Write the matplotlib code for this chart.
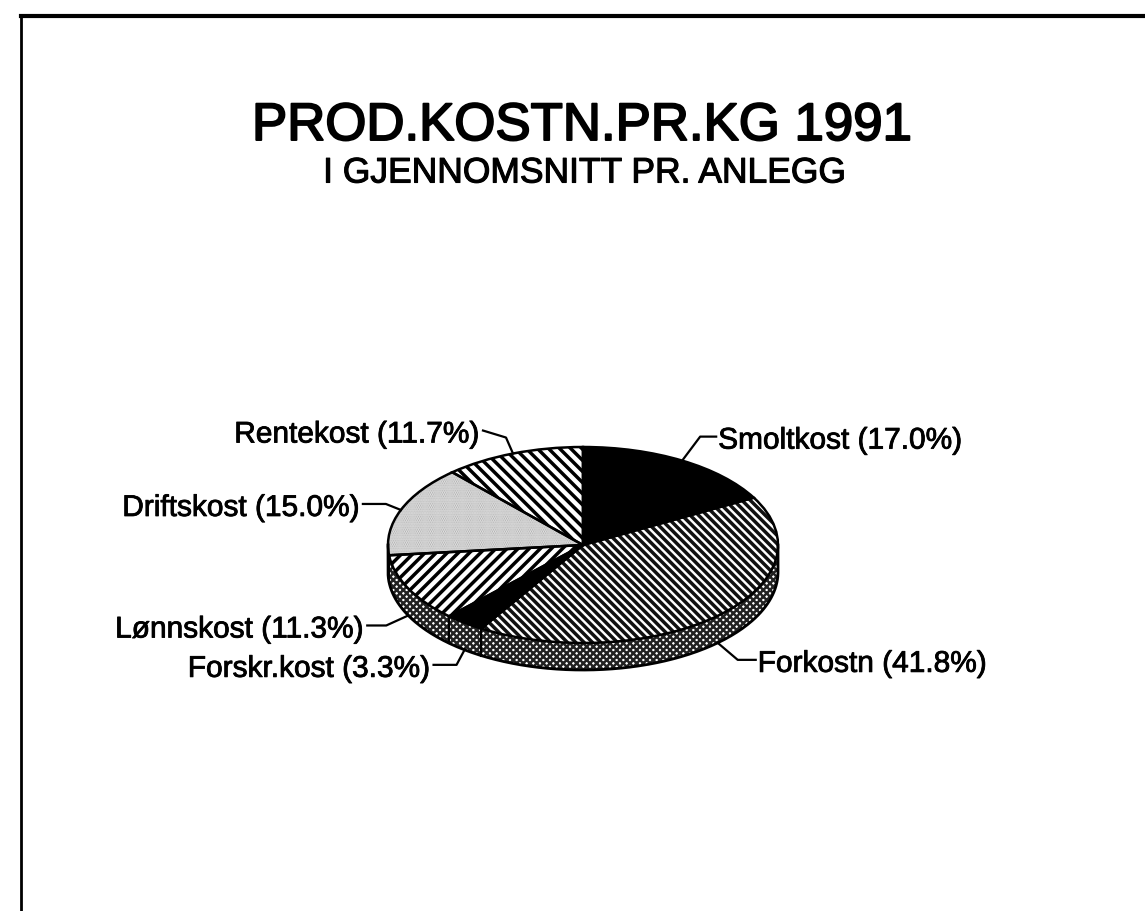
import matplotlib
matplotlib.use("Agg")
import matplotlib.pyplot as plt
import matplotlib.patheffects as pe
import numpy as np

plt.rcParams['font.family'] = ['Liberation Sans', 'DejaVu Sans']
plt.rcParams['hatch.linewidth'] = 2.2

labels = ['Smoltkost', 'Forkostn', 'Forskr.kost', 'Lønnskost', 'Driftskost', 'Rentekost']
values = [17.0, 41.8, 3.3, 11.3, 15.0, 11.7]
colors = ['black', 'white', 'black', 'white', 'white', 'white']
hatches = [None, '\\\\\\\\', None, '///', '.........', '\\\\\\']
hatch_colors = ['black', '#111111', 'black', 'black', '#a0a0a0', 'black']

# pixel geometry of the tilted pie
W, H = 1145, 911
cx, cy = 583, 545
a, b = 195, 98
depth = 27 / b

# leader elbow offsets from the wedge edge (px), then text anchor
elbows = [[(18, -24), (34, -24)], [(20, 17), (38, 17)], [(-8, 15), (-31, 15)],
          [(-22, 10), (-41, 10)], [(-15, -6), (-38, -6)], [(-7, -16), (-30, -23)]]
ha = ['left', 'left', 'right', 'right', 'right', 'right']

fig = plt.figure(figsize=(W / 100, H / 100), dpi=100)
ax = fig.add_axes([0, 0, 1, 1])
stroke = [pe.withStroke(linewidth=0.6, foreground='black')]


def to_xy(px, py):
    return (px - cx) / a, (cy - py) / b


# rim
t = np.linspace(np.pi, 2 * np.pi, 200)
rim = ax.fill_between(np.cos(t), np.sin(t) - depth, np.sin(t), facecolor='white',
                      edgecolor='#222222', hatch='xxxxx', linewidth=0, zorder=1)
rim.set_hatch_linewidth(1.8)
ax.plot(np.r_[-1, np.cos(t), 1], np.r_[0, np.sin(t) - depth, 0], color='black', lw=2, zorder=3)

# top face, hatches first then a black outline on top
wedges, _ = ax.pie(values, startangle=90, counterclock=False, radius=1,
                   colors=colors, wedgeprops=dict(linewidth=0))
for w, h, hc in zip(wedges, hatches, hatch_colors):
    w.set_zorder(2)
    if h:
        w.set_hatch(h)
        w.set_edgecolor(hc)
wedges[1].set_hatch_linewidth(2.5)
wedges[3].set_hatch_linewidth(2.5)
wedges[4].set_hatch_linewidth(1.0)
wedges[5].set_hatch_linewidth(2.5)

outline, _ = ax.pie(values, startangle=90, counterclock=False, radius=1,
                    wedgeprops=dict(fill=False, edgecolor='black', linewidth=1.8))
for w in outline:
    w.set_zorder(3)

ax.set_aspect('auto')
ax.set_xlim(*[to_xy(p, cy)[0] for p in (0, W)])
ax.set_ylim(*[to_xy(cx, p)[1] for p in (H, 0)])
ax.axis('off')

# rim dividers and leaders come from the slice angles
frac = np.cumsum(values) / np.sum(values)
for f in frac[:-1]:
    ang = np.pi / 2 - 2 * np.pi * f
    if np.sin(ang) < 0:
        ax.plot([np.cos(ang)] * 2, [np.sin(ang), np.sin(ang) - depth], color='black', lw=1.5, zorder=3)

mids = frac - np.array(values) / np.sum(values) / 2
for i, m in enumerate(mids):
    ang = np.pi / 2 - 2 * np.pi * m
    x0, y0 = np.cos(ang), np.sin(ang)
    if y0 < 0:
        y0 -= depth
    px0, py0 = cx + a * x0, cy - b * y0
    pts = [(px0, py0)] + [(px0 + dx, py0 + dy) for dx, dy in elbows[i]]
    ax.plot(*zip(*[to_xy(*p) for p in pts]), color='black', lw=1.6, zorder=4, clip_on=False)
    tx, ty = to_xy(pts[-1][0] + (2 if ha[i] == 'left' else -3), pts[-1][1] + 4)
    ax.text(tx, ty, f'{labels[i]} ({values[i]:.1f}%)', ha=ha[i], va='center', fontsize=21.5,
            color='black', path_effects=stroke)

fig.text(582 / W, 1 - 126 / H, 'PROD.KOSTN.PR.KG 1991', ha='center', va='center',
         fontsize=38, color='black', path_effects=[pe.withStroke(linewidth=1.4, foreground='black')])
fig.text(584 / W, 1 - 173 / H, 'I GJENNOMSNITT PR. ANLEGG', ha='center', va='center',
         fontsize=25.5, color='black', path_effects=[pe.withStroke(linewidth=0.8, foreground='black')])

# page frame, top and left only
fig.add_artist(plt.Line2D([21 / W, 21 / W], [0, 1 - 16 / H], color='black', lw=2))
fig.add_artist(plt.Line2D([21 / W, 1], [1 - 16 / H, 1 - 16 / H], color='black', lw=3))

fig.savefig('out.png', dpi=100)
